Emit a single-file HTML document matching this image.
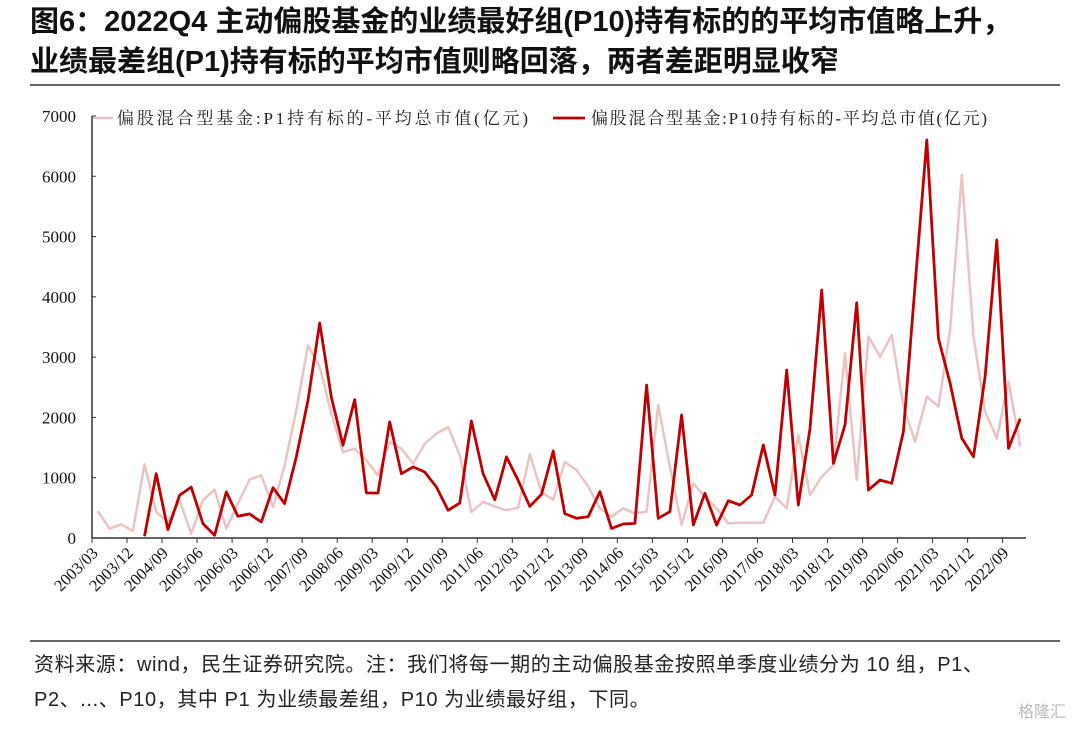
<!DOCTYPE html>
<html><head><meta charset="utf-8"><style>
body{margin:0;width:1080px;height:730px;background:#fff;overflow:hidden;font-family:"Liberation Sans","Noto Sans CJK SC",sans-serif}
.title{position:absolute;left:30px;top:2px;font-size:29px;font-weight:bold;line-height:40px;color:#111;white-space:nowrap}
.rule{position:absolute;left:30px;width:1030px;height:2px;background:#666}
.foot{position:absolute;left:34px;top:648px;font-size:20px;line-height:35px;color:#222;letter-spacing:0.6px;white-space:nowrap}
.wm{position:absolute;right:14px;bottom:8px;font-size:16px;color:#bbb}
</style></head><body>
<div class="title">图6：2022Q4 主动偏股基金的业绩最好组(P10)持有标的的平均市值略上升，<br>业绩最差组(P1)持有标的平均市值则略回落，两者差距明显收窄</div>
<div class="rule" style="top:84px"></div>
<svg id="chart" width="1080" height="730" style="position:absolute;left:0;top:0"></svg>
<div class="rule" style="top:640px"></div>
<div class="foot">资料来源：wind，民生证券研究院。注：我们将每一期的主动偏股基金按照单季度业绩分为 10 组，P1、<br>P2、...、P10，其中 P1 为业绩最差组，P10 为业绩最好组，下同。</div>
<div class="wm">格隆汇</div>
<script>
const p1Values=[448,155,227,116,1222,431,265,625,72,625,802,155,570,968,1040,514,1205,2118,3196,2837,2063,1427,1482,1288,1040,1593,1482,1233,1565,1731,1841,1371,431,597,525,459,503,1388,763,636,1260,1128,852,492,354,492,409,437,2207,1183,215,907,686,492,243,254,254,254,686,492,1709,713,1017,1211,3064,962,3340,3008,3368,2179,1598,2345,2179,3451,6022,3340,2096,1653,2594,1520];
const p10Values=[null,null,null,null,30,1067,140,710,845,240,45,765,360,400,265,835,570,1345,2285,3567,2340,1540,2295,747,747,1925,1067,1180,1095,846,460,580,1940,1067,636,1345,957,525,725,1443,404,326,354,769,160,232,243,2538,326,437,2040,215,741,215,619,547,713,1543,713,2787,547,1819,4114,1239,1875,3904,796,962,907,1764,4200,6603,3312,2566,1653,1349,2677,4944,1488,1980];
const yTicks=[0,1000,2000,3000,4000,5000,6000,7000];
const categories=[];for(let y=2003;y<=2022;y++)for(const m of ["03","06","09","12"])categories.push(y+"/"+m);
const NS="http://www.w3.org/2000/svg",svg=document.getElementById('chart');
const X0=92,X1=1026,Y0=538,Y1=116,YMAX=7000;
const band=(X1-X0)/categories.length;
const xs=i=>X0+band*(i+0.5), ys=v=>Y0-(Y0-Y1)*v/YMAX;
function mk(t,a){const e=document.createElementNS(NS,t);for(const k in a)e.setAttribute(k,a[k]);svg.appendChild(e);return e;}
const serif='"Liberation Serif","Noto Serif CJK SC",serif';
let e=mk('line',{x1:X0,y1:Y1,x2:X0,y2:Y0,stroke:'#333','stroke-width':1.5});

e=mk('line',{x1:X0,y1:Y0,x2:X1,y2:Y0,stroke:'#333','stroke-width':1.5});

yTicks.forEach(v=>{const y=ys(v);
 mk('line',{x1:X0,y1:y,x2:X0+4,y2:y,stroke:'#333','stroke-width':1});
 const t=mk('text',{x:X0-16,y:y+6,'text-anchor':'end','font-size':17,'font-family':serif,fill:'#111'});
 t.textContent=v;});
for(let i=0;i<categories.length;i+=3){const x=X0+band*i;
 mk('line',{x1:x,y1:Y0,x2:x,y2:Y0+5,stroke:'#333','stroke-width':1});
 const t=mk('text',{x:x+7,y:Y0+16,'text-anchor':'end','font-size':16.5,'font-family':serif,fill:'#111',transform:`rotate(-45 ${x+7} ${Y0+16})`});
 t.textContent=categories[i];}
function line(vals,color,w,name){let d='';vals.forEach((v,i)=>{if(v==null)return;d+=(d?'L':'M')+xs(i).toFixed(1)+','+ys(v).toFixed(1);});
 const p=mk('path',{d:d,fill:'none',stroke:color,'stroke-width':w,'stroke-linejoin':'round'});
 }
line(p1Values,'#ecc3c3',2.5,'p1-series-line');
line(p10Values,'#c00000',2.8,'p10-series-line');
function legend(x,len,tx,tl,color,w,txt,name){const g=mk('g',{});
 const l=document.createElementNS(NS,'line');[['x1',x],['y1',118],['x2',x+len],['y2',118],['stroke',color],['stroke-width',w]].forEach(a=>l.setAttribute(a[0],a[1]));g.appendChild(l);
 const t=document.createElementNS(NS,'text');[['x',tx],['y',124],['font-size',17],['font-family',serif],['fill','#222'],['textLength',tl],['lengthAdjust','spacing']].forEach(a=>t.setAttribute(a[0],a[1]));t.textContent=txt;g.appendChild(t);}
legend(93,20,117,411,'#ecc3c3',2.5,'偏股混合型基金:P1持有标的-平均总市值(亿元)','legend-p1');
legend(553,32,591,396,'#c00000',2.8,'偏股混合型基金:P10持有标的-平均总市值(亿元)','legend-p10');
</script>
</body></html>
